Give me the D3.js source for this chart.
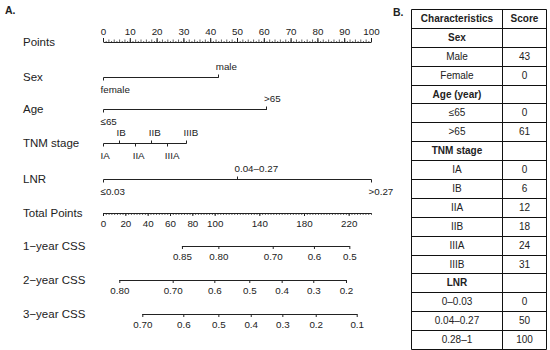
<!DOCTYPE html>
<html>
<head>
<meta charset="utf-8">
<script src="https://cdn.jsdelivr.net/npm/d3@7"></script>
<style>
  body { margin: 0; background: #fff; }
  svg { font-family: "Liberation Sans", Arial, sans-serif; }
</style>
</head>
<body>
<svg id="chart" width="550" height="350"></svg>
<script>
// nomogram data
const rowNames = ['Points', 'Sex', 'Age', 'TNM stage', 'LNR', 'Total Points', '1\u2212year CSS', '2\u2212year CSS', '3\u2212year CSS'];
const pointTicks = d3.range(0, 101, 10);
const sexLabels = ['female', 'male'];
const sexPoints = [0, 43];
const ageLabels = ['\u226465', '>65'];
const agePoints = [0, 61];
const tnmLabels = ['IA', 'IB', 'IIA', 'IIB', 'IIIA', 'IIIB'];
const tnmPoints = [0, 6, 12, 18, 24, 31];
const lnrLabels = ['\u22640.03', '0.04\u20130.27', '>0.27'];
const lnrPoints = [0, 50, 100];
const totalTicks = [0, 20, 40, 60, 80, 100, 140, 180, 220];
const css1Labels = ['0.85', '0.80', '0.70', '0.6', '0.5'];
const css1Total = [70.7, 103.3, 152.0, 188.9, 220.6];
const css2Labels = ['0.80', '0.70', '0.6', '0.5', '0.4', '0.3', '0.2'];
const css2Total = [14.6, 62.4, 99.7, 131.0, 160.0, 188.3, 217.6];
const css3Labels = ['0.70', '0.6', '0.5', '0.4', '0.3', '0.2', '0.1'];
const css3Total = [35.2, 71.9, 103.3, 132.3, 160.6, 190.5, 227.2];

// table data
const tableHead = ['Characteristics', 'Score'];
const tableChars = ['Sex', 'Male', 'Female', 'Age (year)', '\u226465', '>65', 'TNM stage', 'IA', 'IB', 'IIA', 'IIB', 'IIIA', 'IIIB', 'LNR', '0\u20130.03', '0.04\u20130.27', '0.28\u20131'];
const tableScores = [null, 43, 0, null, 0, 61, null, 0, 6, 12, 18, 24, 31, null, 0, 50, 100];

const svg = d3.select('#chart');
const ink = '#222';

const x = d3.scaleLinear().domain([0, 100]).range([103, 371]);
const xt = d3.scaleLinear().domain([0, 240]).range([103, 371]);
const rowY = [42, 77, 109, 143, 179, 213, 246, 280, 314];

svg.append('text').attr('x', 5).attr('y', 14)
  .attr('font-size', 10.5).attr('font-weight', 'bold').attr('fill', ink).text('A.');

// left row names
svg.append('g')
  .selectAll('text')
  .data(rowNames)
  .join('text')
  .attr('x', 23)
  .attr('y', (d, i) => rowY[i])
  .attr('dy', '0.36em')
  .attr('font-size', 11.5)
  .attr('fill', ink)
  .text(d => d);

const styleAxis = g => {
  g.selectAll('path, line').attr('stroke', ink);
  g.selectAll('text').attr('fill', ink).attr('font-size', 9.8).attr('font-family', null);
};

// Points axis
svg.append('g')
  .attr('transform', `translate(0,${rowY[0]})`)
  .call(d3.axisTop(x).tickValues(d3.range(0, 101, 1)).tickFormat('').tickSizeOuter(0))
  .call(styleAxis)
  .call(g => g.selectAll('.tick line')
    .attr('y2', d => d % 2 ? -1 : -2.5)
    .attr('stroke-width', 0.7));
svg.append('g')
  .attr('transform', `translate(0,${rowY[0]})`)
  .call(d3.axisTop(x).tickValues(pointTicks).tickSize(4).tickPadding(3))
  .call(g => g.select('.domain').remove())
  .call(styleAxis);

// variable lines
const vars = [
  { labels: sexLabels, pts: sexPoints, y: rowY[1] },
  { labels: ageLabels, pts: agePoints, y: rowY[2] },
  { labels: tnmLabels, pts: tnmPoints, y: rowY[3] },
  { labels: lnrLabels, pts: lnrPoints, y: rowY[4] }
];

vars.forEach(v => {
  const g = svg.append('g').attr('transform', `translate(0.5,${v.y + 0.5})`);
  g.append('line')
    .attr('x1', x(d3.min(v.pts))).attr('x2', x(d3.max(v.pts)))
    .attr('stroke', ink);
  const items = v.labels.map((l, i) => ({ l, p: v.pts[i], up: i % 2 === 1 }));
  g.selectAll('line.tk')
    .data(items)
    .join('line')
    .attr('class', 'tk')
    .attr('x1', d => Math.round(x(d.p))).attr('x2', d => Math.round(x(d.p)))
    .attr('y1', 0).attr('y2', d => d.up ? -3 : 3)
    .attr('stroke', ink);
  g.selectAll('text')
    .data(items)
    .join('text')
    .attr('x', d => x(d.p) - 3)
    .attr('y', d => d.up ? -11 : 12)
    .attr('dy', '0.36em')
    .attr('font-size', 9.8)
    .attr('fill', ink)
    .text(d => d.l);
});

// Total points axis
svg.append('g')
  .attr('transform', `translate(0,${rowY[5]})`)
  .call(d3.axisBottom(xt).tickValues(d3.range(0, 240.1, 2.5)).tickSize(2).tickFormat('').tickSizeOuter(0))
  .call(styleAxis)
  .call(g => g.selectAll('.tick line').attr('stroke-width', 0.7));
svg.append('g')
  .attr('transform', `translate(0,${rowY[5]})`)
  .call(d3.axisBottom(xt).tickValues(totalTicks).tickSize(3).tickPadding(4))
  .call(g => g.select('.domain').remove())
  .call(styleAxis);

// survival axes
const cssAxes = [
  { labels: css1Labels, tot: css1Total, y: rowY[6] },
  { labels: css2Labels, tot: css2Total, y: rowY[7] },
  { labels: css3Labels, tot: css3Total, y: rowY[8] }
];
cssAxes.forEach(c => {
  const g = svg.append('g').attr('transform', `translate(0,${c.y})`);
  g.call(d3.axisBottom(xt).tickValues(c.tot).tickSize(3).tickPadding(4)
      .tickFormat((d, i) => c.labels[i]))
    .call(g => g.select('.domain').remove())
    .call(styleAxis);
  g.append('line')
    .attr('x1', xt(d3.min(c.tot))).attr('x2', xt(d3.max(c.tot)) + 0.5)
    .attr('y1', 0.5).attr('y2', 0.5)
    .attr('stroke', ink);
});

// Table B
svg.append('text').attr('x', 393).attr('y', 16)
  .attr('font-size', 10.5).attr('font-weight', 'bold').attr('fill', ink).text('B.');

const rows = [{ c: tableHead[0], s: tableHead[1], bold: true }]
  .concat(tableChars.map((c, i) => ({ c, s: tableScores[i] === null ? '' : tableScores[i], bold: tableScores[i] === null })));

const cols = [411.5, 502.5, 546.5];
const ty = d3.scaleBand().domain(d3.range(rows.length)).range([9, 349]);
const tg = svg.append('g');

tg.selectAll('line.h')
  .data(d3.range(rows.length + 1))
  .join('line')
  .attr('class', 'h')
  .attr('x1', cols[0]).attr('x2', cols[2])
  .attr('y1', i => Math.round(i < rows.length ? ty(i) : ty.range()[1]) + 0.5)
  .attr('y2', i => Math.round(i < rows.length ? ty(i) : ty.range()[1]) + 0.5)
  .attr('stroke', '#111');
tg.selectAll('line.v')
  .data(cols)
  .join('line')
  .attr('class', 'v')
  .attr('x1', d => d).attr('x2', d => d)
  .attr('y1', ty.range()[0] + 0.5).attr('y2', ty.range()[1] + 0.5)
  .attr('stroke', '#111');

const cell = tg.selectAll('g.row')
  .data(rows)
  .join('g')
  .attr('class', 'row')
  .attr('transform', (d, i) => `translate(0,${ty(i) + ty.bandwidth() / 2})`);
cell.append('text')
  .attr('x', (cols[0] + cols[1]) / 2)
  .attr('dy', '0.36em')
  .attr('text-anchor', 'middle')
  .attr('font-size', 10)
  .attr('font-weight', d => d.bold ? 'bold' : null)
  .attr('fill', ink)
  .text(d => d.c);
cell.append('text')
  .attr('x', (cols[1] + cols[2]) / 2)
  .attr('dy', '0.36em')
  .attr('text-anchor', 'middle')
  .attr('font-size', 10)
  .attr('font-weight', (d, i) => i === 0 ? 'bold' : null)
  .attr('fill', ink)
  .text(d => d.s);
</script>
</body>
</html>
